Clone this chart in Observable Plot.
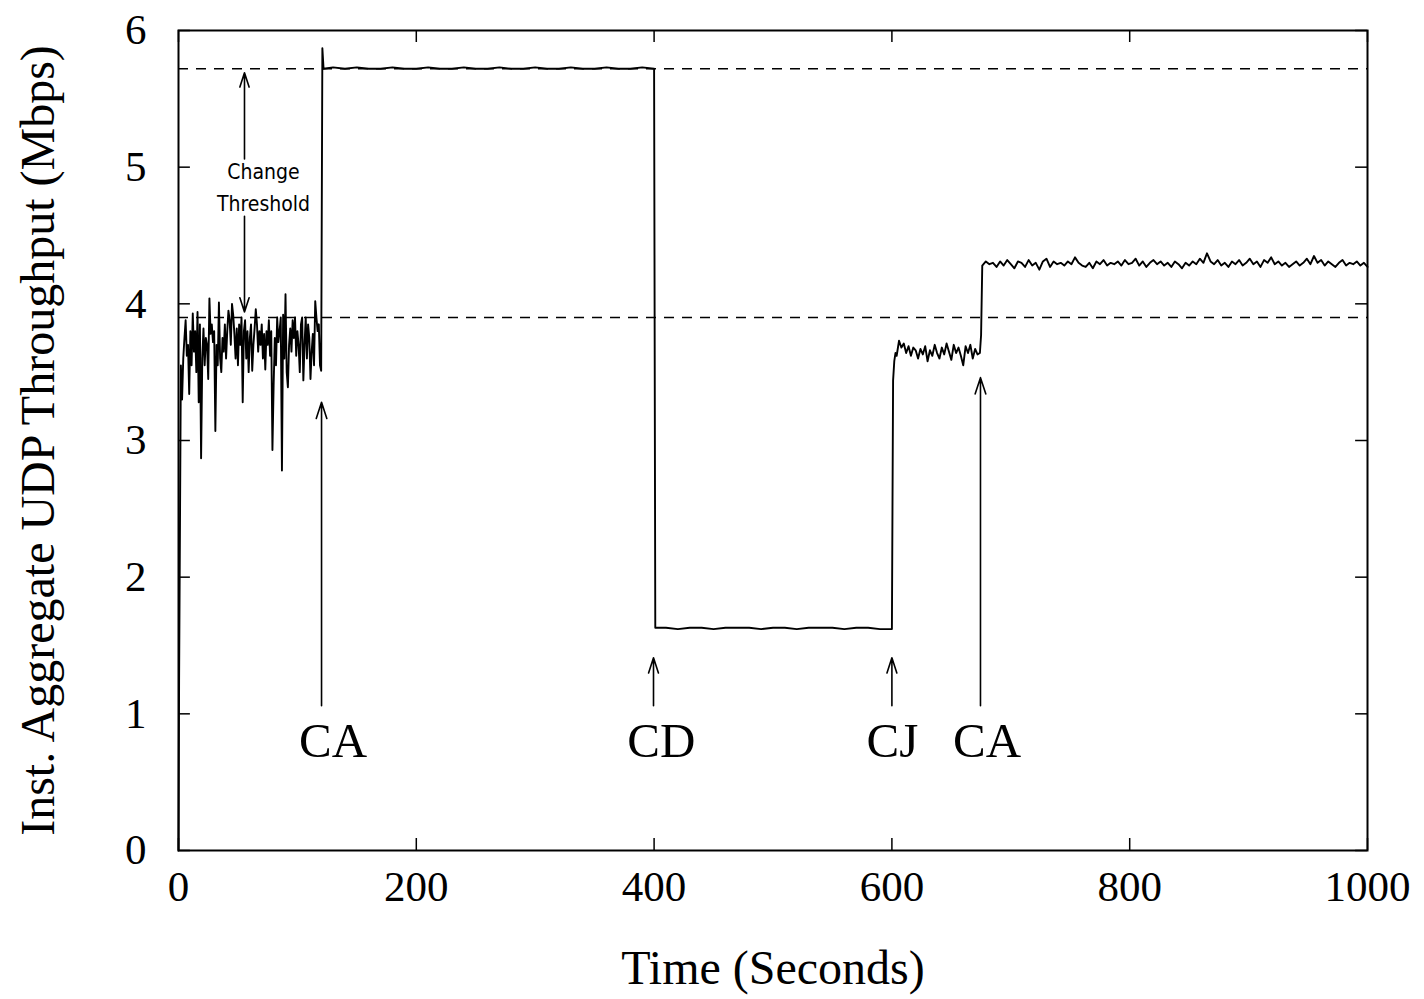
<!DOCTYPE html>
<html><head><meta charset="utf-8">
<script src="https://cdn.jsdelivr.net/npm/d3@7"></script>
<script src="https://cdn.jsdelivr.net/npm/@observablehq/plot@0.6"></script>
<style>body{margin:0;background:#fff} #chart svg{display:block}</style>
</head><body><div id="chart"></div>
<script>
// ---- data ----
const rampTime = [0, 0.5];
const rampValue = [0, 1.24];

// 2 s .. 120 s, one sample per second
const seg1Start = 2, seg1Step = 1;
const seg1Value = [3.55,3.30,3.60,3.75,3.88,3.62,3.70,3.34,3.80,3.55,3.93,3.65,3.80,3.50,3.94,3.28,3.85,2.87,3.60,3.82,
  3.55,3.75,3.70,3.45,4.04,3.78,3.85,3.72,3.80,3.07,3.70,3.55,4.01,3.60,3.50,3.75,3.65,3.85,3.60,3.80,
  3.95,3.88,3.70,4.00,3.92,3.78,3.60,3.82,3.55,3.85,3.70,3.90,3.28,3.80,3.88,3.60,3.80,3.50,3.75,3.85,
  3.51,3.70,3.82,3.96,3.85,3.65,3.80,3.70,3.85,3.60,3.78,3.52,3.80,3.70,3.88,3.62,3.80,2.93,3.40,3.75,
  3.55,3.90,3.72,3.80,3.90,2.78,3.92,3.60,4.07,3.50,3.39,3.70,3.82,3.65,3.88,3.75,3.90,3.62,3.80,3.70,
  3.50,3.85,3.90,3.44,3.70,3.90,3.60,3.85,3.75,3.45,3.65,3.78,3.55,4.02,3.90,3.80,3.85,3.55,3.51];

const highTime  = [121,122,130,140,150,160,170,180,190,200,210,220,230,240,250,260,270,280,290,300,310,320,330,340,350,360,370,380,390,400];
const highValue = [5.87,5.72,5.73,5.72,5.73,5.72,5.72,5.73,5.72,5.72,5.73,5.72,5.72,5.73,5.72,5.72,5.73,5.72,5.72,5.73,5.72,5.72,5.73,5.72,5.72,5.73,5.72,5.72,5.73,5.72];

const lowTime  = [401,410,420,430,440,450,460,470,480,490,500,510,520,530,540,550,560,570,580,590,600];
const lowValue = [1.63,1.63,1.62,1.63,1.63,1.62,1.63,1.63,1.63,1.62,1.63,1.63,1.62,1.63,1.63,1.63,1.62,1.63,1.63,1.62,1.62];

const midTime  = [601,602,603,604,606,608,610,612,614,616,618,620,622,624,626,628,630,632,634,636,638,640,642,644,646,648,650,652,654,656,658,660,662,664,666,668,670,672,674,675];
const midValue = [3.44,3.58,3.64,3.62,3.73,3.68,3.71,3.64,3.69,3.62,3.68,3.66,3.60,3.67,3.63,3.69,3.58,3.66,3.62,3.70,3.64,3.60,3.68,3.63,3.71,3.65,3.59,3.70,3.64,3.68,3.62,3.55,3.69,3.64,3.70,3.60,3.67,3.63,3.64,3.77];

// 676 s .. 1000 s, one sample every 3 s
const seg5Start = 676, seg5Step = 3;
const seg5Value = [4.28,4.31,4.29,4.30,4.27,4.31,4.28,4.32,4.29,4.26,4.31,4.30,4.27,4.32,4.28,4.30,4.25,4.31,4.33,4.27,
  4.31,4.29,4.30,4.28,4.31,4.29,4.34,4.30,4.28,4.27,4.30,4.26,4.31,4.29,4.32,4.28,4.30,4.29,4.31,4.28,
  4.32,4.29,4.30,4.33,4.28,4.31,4.27,4.30,4.32,4.29,4.31,4.28,4.30,4.27,4.31,4.29,4.26,4.30,4.28,4.31,
  4.29,4.33,4.30,4.37,4.31,4.29,4.32,4.28,4.30,4.27,4.31,4.29,4.32,4.28,4.30,4.33,4.29,4.31,4.27,4.32,
  4.30,4.34,4.29,4.31,4.28,4.30,4.27,4.29,4.31,4.28,4.30,4.33,4.29,4.35,4.30,4.32,4.28,4.31,4.29,4.27,
  4.30,4.32,4.28,4.30,4.29,4.31,4.28,4.30,4.27];

const thresholds = [5.72, 3.90];
const xTicks = [0, 200, 400, 600, 800, 1000];
const yTicks = [0, 1, 2, 3, 4, 5, 6];

const events = ["CA", "CD", "CJ", "CA"];
const eventTime = [120.3, 399.5, 600, 674.5];
const eventTipValue = [3.28, 1.41, 1.41, 3.46];
const eventBaseValue = 1.06;
const eventLabelTime = [130, 406, 600.5, 680];
const eventLabelValue = 0.80;

const thresholdNoteLines = ["Change", "Threshold"];
const thresholdNoteTime = 71.5;
const thresholdNoteValue = [4.96, 4.73];
const thresholdArrowTime = 55.5;
const thresholdArrowFrom = [5.06, 4.64];
const thresholdArrowTo = [5.69, 3.94];

const xLabel = "Time (Seconds)";
const yLabel = "Inst. Aggregate UDP Throughput (Mbps)";

// ---- build series ----
const series = [];
rampTime.forEach((t, i) => series.push({t, v: rampValue[i]}));
seg1Value.forEach((v, i) => series.push({t: seg1Start + i * seg1Step, v}));
highTime.forEach((t, i) => series.push({t, v: highValue[i]}));
lowTime.forEach((t, i) => series.push({t, v: lowValue[i]}));
midTime.forEach((t, i) => series.push({t, v: midValue[i]}));
seg5Value.forEach((v, i) => series.push({t: seg5Start + i * seg5Step, v}));

const eventRows = events.map((e, i) => ({e, t: eventTime[i], tip: eventTipValue[i], lt: eventLabelTime[i]}));
const noteRows = thresholdNoteLines.map((s, i) => ({s, y: thresholdNoteValue[i]}));
const thArrows = thresholdArrowFrom.map((f, i) => ({f, to: thresholdArrowTo[i]}));

const serif = "'Liberation Serif', 'Times New Roman', serif";
const tickX = 10;      // inward tick length in x units
const tickY = 0.088;   // inward tick length in y units

const chart = Plot.plot({
  width: 1424, height: 999,
  marginLeft: 178, marginRight: 57, marginTop: 30, marginBottom: 149,
  style: {fontFamily: serif, background: "#fff", color: "#000", overflow: "visible"},
  x: {domain: [0, 1000]},
  y: {domain: [0, 6]},
  marks: [
    Plot.ruleY(thresholds, {stroke: "#000", strokeWidth: 1.5, strokeDasharray: "10,8"}),
    Plot.lineY(series, {x: "t", y: "v", stroke: "#000", strokeWidth: 1.9}),
    // inward ticks on all four sides
    Plot.ruleX(xTicks, {x: d => d, y1: 0, y2: tickY, stroke: "#000", strokeWidth: 1.5}),
    Plot.ruleX(xTicks, {x: d => d, y1: 6 - tickY, y2: 6, stroke: "#000", strokeWidth: 1.5}),
    Plot.ruleY(yTicks, {y: d => d, x1: 0, x2: tickX, stroke: "#000", strokeWidth: 1.5}),
    Plot.ruleY(yTicks, {y: d => d, x1: 1000 - tickX, x2: 1000, stroke: "#000", strokeWidth: 1.5}),
    Plot.axisX(xTicks, {tickSize: 0, tickPadding: 20, fontSize: 43, label: null, fontFamily: serif, tickFormat: d => String(d)}),
    Plot.axisY(yTicks, {tickSize: 0, tickPadding: 32, fontSize: 43, label: null, fontFamily: serif, tickFormat: d => String(d)}),
    Plot.frame({stroke: "#000", strokeWidth: 2}),
    // event arrows and labels
    Plot.arrow(eventRows, {x1: "t", x2: "t", y1: eventBaseValue, y2: "tip", stroke: "#000", strokeWidth: 1.6, headLength: 16, headAngle: 36}),
    Plot.text(eventRows, {x: "lt", y: eventLabelValue, text: "e", fontSize: 49, fontFamily: serif, lineAnchor: "middle"}),
    // threshold note
    Plot.arrow(thArrows, {x1: thresholdArrowTime, x2: thresholdArrowTime, y1: "f", y2: "to", stroke: "#000", strokeWidth: 1.6, headLength: 14, headAngle: 36}),
    Plot.text(noteRows, {x: thresholdNoteTime, y: "y", text: "s", fontSize: 21, fontFamily: "'DejaVu Sans Condensed', 'Open Sans', sans-serif", fontStretch: "condensed", lineAnchor: "middle"}),
    // axis titles
    Plot.text([xLabel], {frameAnchor: "bottom", dy: 118, fontSize: 48, fontFamily: serif, lineAnchor: "middle"}),
    Plot.text([yLabel], {frameAnchor: "left", dx: -140, rotate: -90, textAnchor: "middle", fontSize: 48, fontFamily: serif, lineAnchor: "middle"})
  ]
});
document.getElementById("chart").appendChild(chart);
</script>
</body></html>
